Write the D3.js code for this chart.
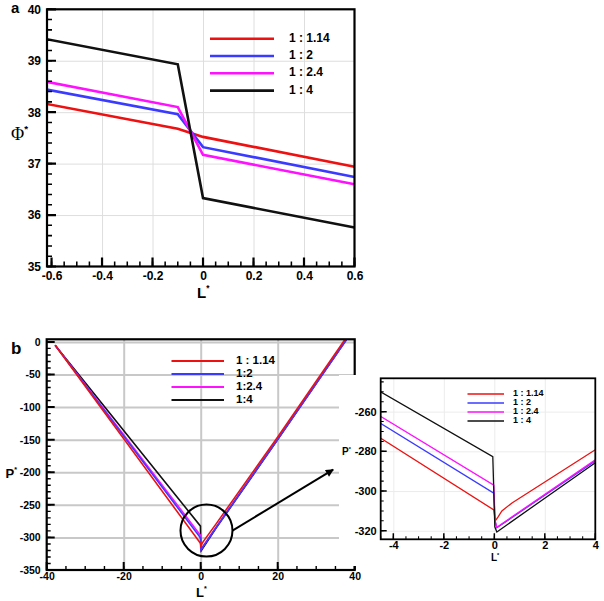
<!DOCTYPE html>
<html>
<head>
<meta charset="utf-8">
<script src="https://cdn.jsdelivr.net/npm/d3@7"></script>
<style>
  body { margin: 0; background: #fff; }
  text { font-family: "Liberation Sans", Arial, sans-serif; font-weight: bold; }
</style>
</head>
<body>
<script>
// ---- data ----
const seriesNames = ["1 : 1.14", "1 : 2", "1 : 2.4", "1 : 4"];
const seriesNamesB = ["1 : 1.14", "1:2", "1:2.4", "1:4"];
const colors = ["#ee1111", "#3b3bff", "#ff11ff", "#111111"];

// panel a : phi* vs L*
const aL = [-0.62, -0.1, 0, 0.6];
const aRed = [38.16, 37.68, 37.52, 36.94];
const aBlue = [38.44, 37.96, 37.32, 36.74];
const aMagenta = [38.59, 38.10, 37.17, 36.60];
const aBlack = [39.42, 38.93, 36.33, 35.76];
const aXTicks = [-0.6, -0.4, -0.2, 0, 0.2, 0.4, 0.6];
const aYTicks = [35, 36, 37, 38, 39, 40];

// panel b : P* vs L*
const bRedL = [-37.8, -0.02, 0.04, 0.15, 0.3, 0.7, 4, 20, 37.5];
const bRedP = [-5, -309.5, -315, -313, -310, -306, -279.2, -146, 4];
const bBlueL = [-37.8, -0.02, 0.03, 0.1, 4, 20, 37.9];
const bBlueP = [-5, -301.1, -315, -318.5, -284.8, -149.5, 4];
const bMagentaL = [-37.8, -0.02, 0.03, 0.1, 4, 20, 37.9];
const bMagentaP = [-5, -297, -315, -318.2, -284.3, -149, 4];
const bBlackL = [-37.8, -0.06, 0.02, 0.1, 4, 20, 37.9];
const bBlackP = [-5, -282.7, -318, -320.6, -285.7, -150, 4];
const bXTicks = [-40, -20, 0, 20, 40];
const bYTicks = [-350, -300, -250, -200, -150, -100, -50, 0];
const insetXTicks = [-4, -2, 0, 2, 4];
const insetYTicks = [-320, -300, -280, -260];

// zoom annotation (data coords of panel b)
const zoomCircle = { L: 1.5, P: -289.5, r: 26 };
const arrowTip = { L: 34.4, P: -196 };

// ---- drawing ----
const svg = d3.select("body").append("svg").attr("width", 604).attr("height", 601);

svg.append("defs").append("marker")
  .attr("id", "arrow").attr("viewBox", "0 0 10 10")
  .attr("refX", 9).attr("refY", 5)
  .attr("markerWidth", 5).attr("markerHeight", 4).attr("orient", "auto")
  .append("path").attr("d", "M0,0L10,5L0,10z").attr("fill", "#000");

function panel(cfg) {
  const w = cfg.x1 - cfg.x0, h = cfg.y1 - cfg.y0;
  const g = svg.append("g").attr("transform", `translate(${cfg.x0},${cfg.y0})`);
  const x = d3.scaleLinear().domain(cfg.xDomain).range([0, w]);
  const y = d3.scaleLinear().domain(cfg.yDomain).range([h, 0]);

  // grid
  g.append("g").attr("transform", `translate(0,${h})`)
    .call(d3.axisBottom(x).tickValues(cfg.gridX).tickSize(-h).tickFormat(""))
    .call(s => s.select(".domain").remove())
    .selectAll("line").attr("stroke", cfg.gridColor).attr("stroke-width", cfg.gridWidth);
  g.append("g")
    .call(d3.axisLeft(y).tickValues(cfg.gridY).tickSize(-w).tickFormat(""))
    .call(s => s.select(".domain").remove())
    .selectAll("line").attr("stroke", cfg.gridColor).attr("stroke-width", cfg.gridWidth);

  g.append("clipPath").attr("id", cfg.id)
    .append("rect").attr("width", w).attr("height", h);
  const plot = g.append("g").attr("clip-path", `url(#${cfg.id})`);

  // labels via the axes
  const xa = g.append("g").attr("transform", `translate(0,${h})`)
    .call(d3.axisBottom(x).tickValues(cfg.xTicks).tickSize(0).tickPadding(cfg.xPad).tickFormat(d => String(d)))
    .call(s => s.select(".domain").remove());
  const ya = g.append("g")
    .call(d3.axisLeft(y).tickValues(cfg.yTicks).tickSize(0).tickPadding(cfg.yPad).tickFormat(d => String(d)))
    .call(s => s.select(".domain").remove());
  [xa, ya].forEach(a => {
    a.attr("font-family", null).attr("font-size", null);
    a.selectAll("text").attr("font-size", cfg.font).attr("fill", "#000");
  });

  g.append("rect").attr("width", w).attr("height", h)
    .attr("fill", "none").attr("stroke", "#000").attr("stroke-width", cfg.spine);

  // inward ticks as paths built off the scales
  const tickPath = (xv, yv, len) =>
    xv.map(d => `M${x(d)},${h}v${-len}`).join("") +
    yv.map(d => `M0,${y(d)}h${len}`).join("");
  g.append("path").attr("d", tickPath(cfg.xMinor, cfg.yMinor, cfg.minor))
    .attr("fill", "none").attr("stroke", "#000").attr("stroke-width", cfg.tickW * 0.7);
  g.append("path").attr("d", tickPath(cfg.xTicks, cfg.yTicks, cfg.major))
    .attr("fill", "none").attr("stroke", "#000").attr("stroke-width", cfg.tickW);
  return { g, plot, x, y, w, h };
}

function title(parent, px, py, main, size, opts = {}) {
  const t = parent.append("text").attr("x", px).attr("y", py)
    .attr("font-size", size).attr("text-anchor", opts.anchor || "start");
  const m = t.append("tspan").text(main);
  if (opts.serif) m.attr("font-family", "'Liberation Serif', serif").attr("font-weight", "normal");
  if (opts.star) t.append("tspan").text("*").attr("font-size", size * 0.55).attr("dy", -size * 0.45);
  return t;
}

// ===== panel a =====
const A = panel({
  id: "clipA", x0: 47, x1: 354.5, y0: 9.3, y1: 266.5,
  xDomain: [-0.618, 0.6], yDomain: [35, 40],
  gridX: [-0.4, -0.2, 0, 0.2, 0.4], gridY: [36, 37, 38, 39], gridColor: "#dedede", gridWidth: 1,
  xTicks: aXTicks, yTicks: aYTicks,
  xMinor: d3.range(-0.6, 0.601, 0.05), yMinor: d3.range(35, 40.01, 0.2),
  major: 9, minor: 5, tickW: 2.2, xPad: 5, yPad: 6, font: 12, spine: 2.2
});
const aLine = d3.line().x((d, i) => A.x(aL[i])).y(d => A.y(d));
[aRed, aBlue, aMagenta, aBlack].forEach((s, k) => {
  A.plot.append("path").datum(s).attr("d", aLine)
    .attr("fill", "none").attr("stroke", colors[k]).attr("stroke-width", 2.6);
});
seriesNames.forEach((n, k) => {
  const yy = 38.7 + k * 17.3;
  svg.append("line").attr("x1", 210).attr("x2", 274).attr("y1", yy).attr("y2", yy)
    .attr("stroke", colors[k]).attr("stroke-width", 2.6);
  svg.append("text").attr("x", 289).attr("y", yy + 3).attr("font-size", 12).text(n);
});
svg.append("text").attr("x", 11).attr("y", 13).attr("font-size", 15).text("a");
title(svg, 11, 140, "Φ", 18, { serif: true, star: true });
title(svg, 197, 298, "L", 15, { star: true });

// ===== panel b =====
const B = panel({
  id: "clipB", x0: 46.7, x1: 354.7, y0: 339.3, y1: 570,
  xDomain: [-40, 40], yDomain: [-350, 4],
  gridX: [-20, 0, 20], gridY: [-300, -250, -200, -150, -100, -50, 0], gridColor: "#c8c8c8", gridWidth: 2,
  xTicks: bXTicks, yTicks: bYTicks,
  xMinor: d3.range(-40, 40.1, 5), yMinor: d3.range(-350, 0.1, 10),
  major: 8, minor: 4, tickW: 2, xPad: 3, yPad: 6, font: 10.5, spine: 2.2
});
const bSeries = [[bRedL, bRedP], [bBlueL, bBlueP], [bMagentaL, bMagentaP], [bBlackL, bBlackP]];
function drawB(P, width, order) {
  order.forEach(k => {
    const [Ls, Ps] = bSeries[k];
    const line = d3.line().x((d, i) => P.x(Ls[i])).y(d => P.y(d));
    P.plot.append("path").datum(Ps).attr("d", line)
      .attr("fill", "none").attr("stroke", colors[k]).attr("stroke-width", width);
  });
}
drawB(B, 1.6, [3, 2, 1, 0]);
seriesNamesB.forEach((n, k) => {
  const yy = 361 + k * 13;
  svg.append("line").attr("x1", 171.5).attr("x2", 224).attr("y1", yy).attr("y2", yy)
    .attr("stroke", colors[k]).attr("stroke-width", 2);
  svg.append("text").attr("x", 236).attr("y", yy + 2.5).attr("font-size", 11.5).text(n);
});
svg.append("text").attr("x", 11).attr("y", 354).attr("font-size", 17).text("b");
title(svg, 5.5, 478, "P", 13, { star: true });
title(svg, 196, 597, "L", 13, { star: true });

// zoom circle and arrow
const cx = B.x(zoomCircle.L) + 46.7, cy = B.y(zoomCircle.P) + 339.3;
// white backdrop for inset
svg.append("rect").attr("x", 339).attr("y", 375).attr("width", 265).attr("height", 191).attr("fill", "#fff");
svg.append("circle").attr("cx", cx).attr("cy", cy).attr("r", zoomCircle.r)
  .attr("fill", "none").attr("stroke", "#000").attr("stroke-width", 2);
svg.append("line")
  .attr("x1", cx + zoomCircle.r).attr("y1", cy)
  .attr("x2", B.x(arrowTip.L) + 46.7).attr("y2", B.y(arrowTip.P) + 339.3)
  .attr("stroke", "#000").attr("stroke-width", 2).attr("marker-end", "url(#arrow)");

// ===== inset =====
const I = panel({
  id: "clipI", x0: 380.7, x1: 595.3, y0: 378.3, y1: 539.3,
  xDomain: [-4.5, 4], yDomain: [-324.3, -243.2],
  gridX: [-4, -2, 0, 2], gridY: [-320, -300, -280, -260], gridColor: "#ececec", gridWidth: 1,
  xTicks: insetXTicks, yTicks: insetYTicks,
  xMinor: d3.range(-4.5, 4.01, 0.5), yMinor: d3.range(-320, -244, 5),
  major: 6, minor: 3, tickW: 1.5, xPad: 2, yPad: 4, font: 11, spine: 1.8
});
drawB(I, 1.3, [0, 1, 2, 3]);
seriesNames.forEach((n, k) => {
  const yy = 394 + k * 9;
  svg.append("line").attr("x1", 467.5).attr("x2", 504).attr("y1", yy).attr("y2", yy)
    .attr("stroke", colors[k]).attr("stroke-width", 1.4);
  svg.append("text").attr("x", 513).attr("y", yy + 1.5).attr("font-size", 9).text(n);
});
title(svg, 342, 455, "P", 10, { star: true });
title(svg, 491, 561, "L", 10, { star: true });
</script>
</body>
</html>
